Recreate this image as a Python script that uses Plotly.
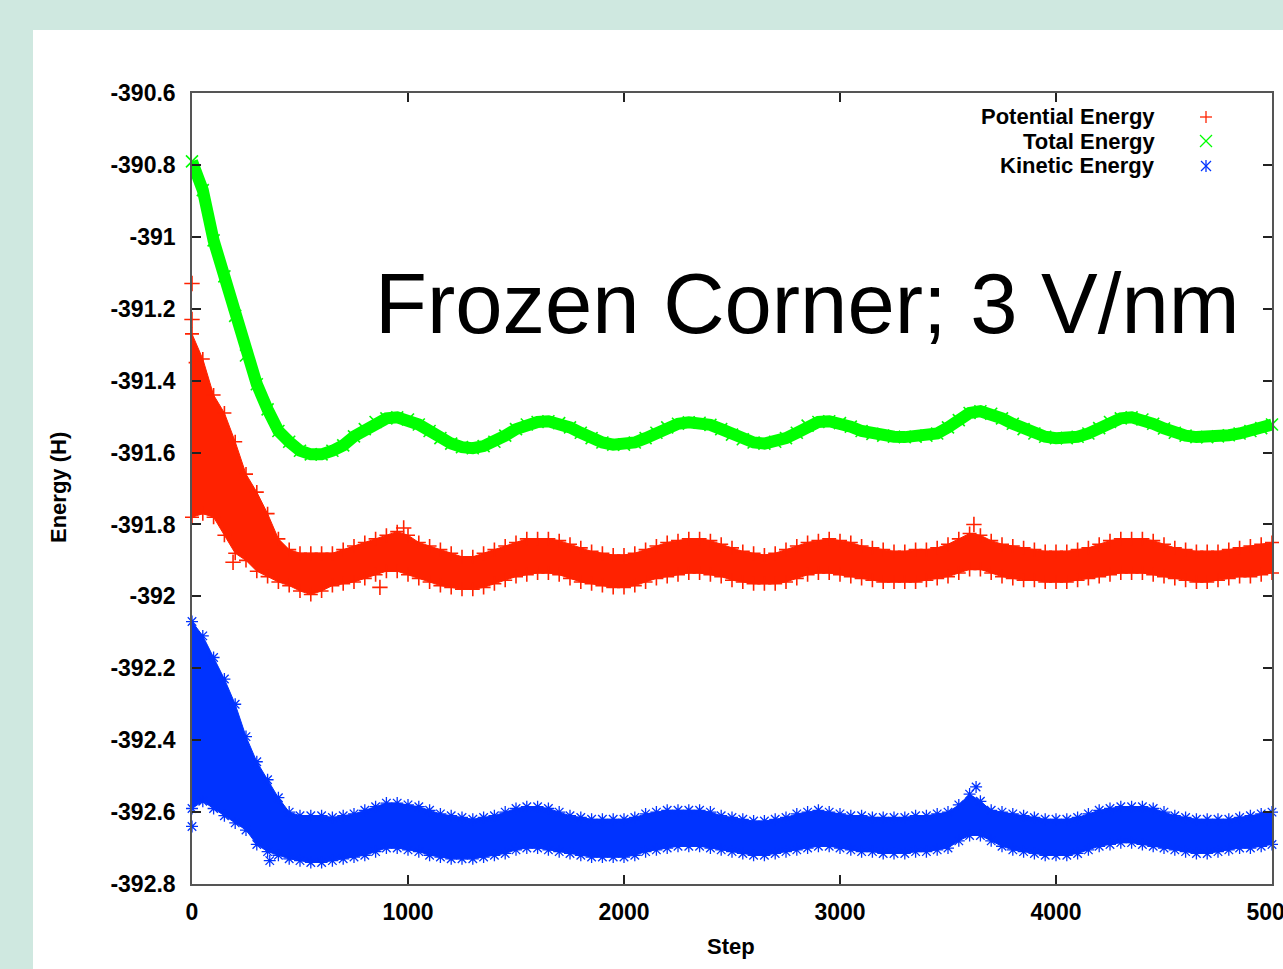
import plotly.graph_objects as go

# ---------------- data ----------------
steps = list(range(0, 5001, 50))

total_energy = [
    -390.79, -390.87, -391.01, -391.11, -391.22, -391.33, -391.41, -391.48, -391.54, -391.57,
    -391.595, -391.605, -391.605, -391.595, -391.58, -391.555, -391.535, -391.515, -391.505, -391.502,
    -391.508, -391.522, -391.54, -391.56, -391.575, -391.585, -391.588, -391.582, -391.57, -391.553,
    -391.535, -391.522, -391.515, -391.513, -391.518, -391.53, -391.545, -391.56, -391.572, -391.578,
    -391.578, -391.572, -391.56, -391.545, -391.53, -391.52, -391.516, -391.517, -391.523, -391.535,
    -391.55, -391.563, -391.572, -391.575, -391.57, -391.56, -391.545, -391.525, -391.515, -391.513,
    -391.518, -391.528, -391.54, -391.548, -391.553, -391.556, -391.557, -391.556, -391.553, -391.547,
    -391.53, -391.51, -391.49, -391.485, -391.492, -391.505, -391.52, -391.535, -391.547, -391.556,
    -391.56, -391.56, -391.556, -391.547, -391.532, -391.515, -391.505, -391.502, -391.508, -391.52,
    -391.533, -391.545, -391.553, -391.557, -391.557, -391.555, -391.552, -391.547, -391.54, -391.532,
    -391.522]

potential_hi = [
    -391.27, -391.34, -391.44, -391.49, -391.57, -391.66, -391.71, -391.77, -391.84, -391.87,
    -391.88, -391.88, -391.88, -391.88, -391.87, -391.86, -391.85, -391.84, -391.83, -391.82,
    -391.83, -391.85, -391.86, -391.87, -391.88, -391.89, -391.89, -391.88, -391.87, -391.86,
    -391.85, -391.84, -391.84, -391.84, -391.845, -391.855, -391.865, -391.875, -391.88, -391.885,
    -391.885, -391.88, -391.87, -391.86, -391.85, -391.845, -391.84, -391.84, -391.845, -391.855,
    -391.865, -391.875, -391.88, -391.885, -391.88, -391.87, -391.86, -391.85, -391.845, -391.84,
    -391.845, -391.85, -391.86, -391.865, -391.87, -391.875, -391.875, -391.87, -391.87, -391.865,
    -391.855, -391.84, -391.825, -391.83, -391.845, -391.855, -391.86, -391.865, -391.87, -391.875,
    -391.875, -391.875, -391.87, -391.865, -391.855, -391.845, -391.84, -391.84, -391.84, -391.845,
    -391.855, -391.865, -391.87, -391.875, -391.875, -391.875, -391.87, -391.865, -391.86, -391.855,
    -391.85]

potential_lo = [
    -391.78, -391.77, -391.78, -391.83, -391.88, -391.90, -391.93, -391.945, -391.96, -391.97,
    -391.985, -391.995, -391.985, -391.97, -391.965, -391.96, -391.95, -391.94, -391.93, -391.93,
    -391.94, -391.95, -391.96, -391.97, -391.975, -391.98, -391.98, -391.975, -391.965, -391.955,
    -391.945, -391.94, -391.935, -391.935, -391.94, -391.95, -391.96, -391.965, -391.97, -391.975,
    -391.975, -391.97, -391.96, -391.95, -391.945, -391.94, -391.935, -391.935, -391.94, -391.945,
    -391.955, -391.96, -391.965, -391.965, -391.965, -391.96, -391.95, -391.94, -391.935, -391.935,
    -391.94, -391.945, -391.95, -391.955, -391.96, -391.96, -391.96, -391.96, -391.955, -391.95,
    -391.945, -391.935, -391.925, -391.925, -391.935, -391.945, -391.95, -391.955, -391.955, -391.96,
    -391.96, -391.96, -391.955, -391.95, -391.945, -391.94, -391.935, -391.935, -391.935, -391.94,
    -391.945, -391.95, -391.955, -391.96, -391.96, -391.955, -391.95, -391.945, -391.945, -391.94,
    -391.935]

kinetic_hi = [
    -392.07, -392.11, -392.17, -392.23, -392.30, -392.39, -392.46, -392.51, -392.56, -392.60,
    -392.61, -392.61, -392.61, -392.615, -392.61, -392.605, -392.595, -392.585, -392.575, -392.575,
    -392.58, -392.585, -392.595, -392.605, -392.61, -392.615, -392.62, -392.615, -392.61, -392.60,
    -392.59, -392.585, -392.585, -392.59, -392.60, -392.61, -392.615, -392.62, -392.62, -392.62,
    -392.62, -392.615, -392.605, -392.60, -392.595, -392.595, -392.595, -392.595, -392.60, -392.61,
    -392.615, -392.62, -392.625, -392.625, -392.62, -392.615, -392.605, -392.60, -392.595, -392.60,
    -392.605, -392.61, -392.61, -392.615, -392.615, -392.615, -392.615, -392.61, -392.61, -392.605,
    -392.60, -392.58, -392.55, -392.57, -392.595, -392.60, -392.605, -392.61, -392.615, -392.62,
    -392.62, -392.62, -392.615, -392.605, -392.595, -392.59, -392.585, -392.585, -392.585, -392.59,
    -392.60, -392.61, -392.615, -392.62, -392.62, -392.62, -392.62, -392.615, -392.61, -392.605,
    -392.60]

kinetic_lo = [
    -392.59, -392.57, -392.59, -392.61, -392.63, -392.65, -392.69, -392.71, -392.72, -392.73,
    -392.735, -392.74, -392.74, -392.735, -392.73, -392.725, -392.72, -392.71, -392.70, -392.70,
    -392.705, -392.71, -392.72, -392.725, -392.73, -392.73, -392.73, -392.725, -392.72, -392.715,
    -392.705, -392.70, -392.70, -392.705, -392.71, -392.715, -392.72, -392.725, -392.725, -392.725,
    -392.725, -392.72, -392.71, -392.705, -392.70, -392.695, -392.695, -392.695, -392.70, -392.705,
    -392.71, -392.715, -392.72, -392.72, -392.715, -392.71, -392.705, -392.70, -392.695, -392.695,
    -392.70, -392.705, -392.71, -392.71, -392.715, -392.715, -392.715, -392.71, -392.71, -392.705,
    -392.70, -392.68, -392.665, -392.665, -392.68, -392.695, -392.705, -392.71, -392.715, -392.72,
    -392.72, -392.72, -392.715, -392.705, -392.695, -392.69, -392.685, -392.685, -392.69, -392.695,
    -392.70, -392.705, -392.71, -392.715, -392.715, -392.71, -392.705, -392.70, -392.70, -392.695,
    -392.69]

potential_out_steps = [0, 0, 20, 190, 870, 980, 3620]
potential_out_vals = [-391.13, -391.23, -391.35, -391.905, -391.975, -391.81, -391.80]
kinetic_out_steps = [0, 360, 3630]
kinetic_out_vals = [-392.64, -392.735, -392.53]

x_tick_vals = [0, 1000, 2000, 3000, 4000, 5000]
x_tick_text = ["0", "1000", "2000", "3000", "4000", "5000"]
y_tick_vals = [-392.8, -392.6, -392.4, -392.2, -392.0, -391.8, -391.6, -391.4, -391.2, -391.0, -390.8, -390.6]
y_tick_text = ["-392.8", "-392.6", "-392.4", "-392.2", "-392", "-391.8", "-391.6", "-391.4",
               "-391.2", "-391", "-390.8", "-390.6"]

series_names = ["Potential Energy", "Total Energy", "Kinetic Energy"]

RED = "#ff2200"
GREEN = "#00ff00"
BLUE = "#0033ff"
FONT = "Liberation Sans"

# ---------------- figure ----------------
fig = go.Figure()


def add_band(hi, lo, color, symbol, size, lw):
    # filled body of the dense point cloud
    fig.add_trace(go.Scatter(x=steps, y=hi, mode="lines", cliponaxis=False,
                             line=dict(color=color, width=1), showlegend=False, hoverinfo="skip"))
    fig.add_trace(go.Scatter(x=steps, y=lo, mode="lines", cliponaxis=False, fill="tonexty",
                             fillcolor=color, line=dict(color=color, width=1),
                             showlegend=False, hoverinfo="skip"))
    # ragged marker edges
    for arr in (hi, lo):
        fig.add_trace(go.Scatter(x=steps, y=arr, mode="markers", cliponaxis=False,
                                 marker=dict(symbol=symbol, size=size, line=dict(color=color, width=lw)),
                                 showlegend=False, hoverinfo="skip"))


add_band(potential_hi, potential_lo, RED, "cross-thin", 10, 1.6)

# Total energy
fig.add_trace(go.Scatter(x=steps, y=total_energy, mode="lines+markers", cliponaxis=False,
                         line=dict(color=GREEN, width=12),
                         marker=dict(symbol="x-thin", size=12, line=dict(color=GREEN, width=1.6)),
                         showlegend=False, hoverinfo="skip"))

add_band(kinetic_hi, kinetic_lo, BLUE, "asterisk", 10, 1.3)

# scattered outliers
fig.add_trace(go.Scatter(x=potential_out_steps, y=potential_out_vals, mode="markers", cliponaxis=False,
                         marker=dict(symbol="cross-thin", size=11, line=dict(color=RED, width=1.6)),
                         showlegend=False, hoverinfo="skip"))
fig.add_trace(go.Scatter(x=kinetic_out_steps, y=kinetic_out_vals, mode="markers", cliponaxis=False,
                         marker=dict(symbol="asterisk", size=10, line=dict(color=BLUE, width=1.3)),
                         showlegend=False, hoverinfo="skip"))

L, R, T, B = 192, 11, 93, 85
W, H = 1283, 969
PW, PH = W - L - R, H - T - B


def px(x):
    return (x - L) / PW


def py(y):
    return (H - B - y) / PH


shapes = [dict(type="rect", xref="paper", yref="paper", x0=px(33), x1=px(1290),
               y0=py(975), y1=py(30), fillcolor="white", line=dict(width=0), layer="below")]


def seg(x0, y0, x1, y1, color):
    return dict(type="line", xref="paper", yref="paper", x0=px(x0), y0=py(y0), x1=px(x1), y1=py(y1),
                line=dict(color=color, width=1.3))


kx = 1206
rows = [117, 141, 166]
shapes += [seg(kx - 6, rows[0], kx + 6, rows[0], RED), seg(kx, rows[0] - 6, kx, rows[0] + 6, RED)]
shapes += [seg(kx - 6, rows[1] - 6, kx + 6, rows[1] + 6, GREEN), seg(kx - 6, rows[1] + 6, kx + 6, rows[1] - 6, GREEN)]
shapes += [seg(kx, rows[2] - 6, kx, rows[2] + 6, BLUE),
           seg(kx - 5, rows[2] - 5, kx + 5, rows[2] + 5, BLUE), seg(kx - 5, rows[2] + 5, kx + 5, rows[2] - 5, BLUE)]

annotations = []
for name, ry in zip(series_names, rows):
    annotations.append(dict(xref="paper", yref="paper", x=px(1157), y=py(ry), xanchor="right", yanchor="middle",
                            text=name, showarrow=False,
                            font=dict(family=FONT, size=22, color="black", weight="bold")))

annotations.append(dict(xref="paper", yref="paper", x=px(373), y=py(303), xanchor="left", yanchor="middle",
                        text="Frozen Corner; 3 V/nm", showarrow=False,
                        font=dict(family=FONT, size=85, color="black")))
annotations.append(dict(xref="paper", yref="paper", x=px(58), y=py(488), xanchor="center", yanchor="middle",
                        text="Energy (H)", textangle=-90, showarrow=False,
                        font=dict(family=FONT, size=22, color="black", weight="bold")))
annotations.append(dict(xref="paper", yref="paper", x=px(731), y=py(946), xanchor="center", yanchor="middle",
                        text="Step", showarrow=False,
                        font=dict(family=FONT, size=22, color="black", weight="bold")))

axis_common = dict(ticks="inside", ticklen=9, tickwidth=1.5, tickcolor="#222222",
                   showline=True, linecolor="#555555", linewidth=1.5, mirror="ticks",
                   showgrid=False, zeroline=False, ticklabeloverflow="allow", automargin=False,
                   tickfont=dict(family=FONT, size=23, color="black", weight="bold"))

fig.update_layout(
    width=W, height=H,
    margin=dict(l=L, r=R, t=T, b=B, autoexpand=False),
    paper_bgcolor="#cfe8e0",
    plot_bgcolor="white",
    showlegend=False,
    shapes=shapes,
    annotations=annotations,
    xaxis=dict(range=[0, 5000], tickvals=x_tick_vals, ticktext=x_tick_text, ticklabelstandoff=7, **axis_common),
    yaxis=dict(range=[-392.8, -390.6], tickvals=y_tick_vals, ticktext=y_tick_text, ticklabelstandoff=10, **axis_common),
)

fig.write_html("out.html")
